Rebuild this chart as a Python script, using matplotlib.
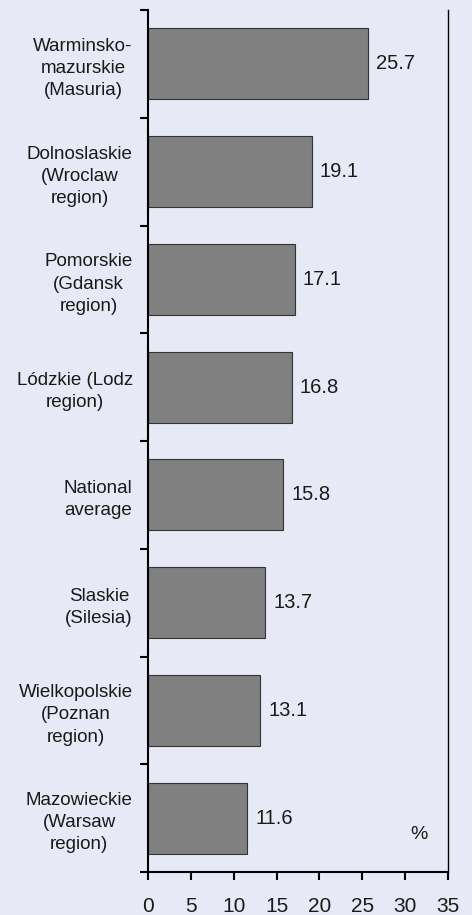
import numpy as np
import matplotlib
matplotlib.use('Agg')
from matplotlib import pyplot as plt

plt.rcParams['font.family'] = ['Liberation Sans', 'DejaVu Sans']

# categories top to bottom
regions = ['Warminsko-\nmazurskie\n(Masuria)',
           'Dolnoslaskie\n(Wroclaw\nregion)',
           'Pomorskie\n(Gdansk\nregion)',
           'Lódzkie (Lodz\nregion)',
           'National\naverage',
           'Slaskie\n(Silesia)',
           'Wielkopolskie\n(Poznan\nregion)',
           'Mazowieckie\n(Warsaw\nregion)']
values = [25.7, 19.1, 17.1, 16.8, 15.8, 13.7, 13.1, 11.6]
xticks = [0, 5, 10, 15, 20, 25, 30, 35]

bg = '#e8e9f6'
fig = plt.figure(figsize=(4.72, 9.15), dpi=100, facecolor=bg)
ax = fig.add_axes([0.3136, 0.047, 0.6356, 0.942], facecolor=bg)

n = len(values)
ypos = np.arange(n)[::-1]
ax.barh(ypos, values, height=0.66, color='#808080', edgecolor='#333333', linewidth=0.8)

for y, v in zip(ypos, values):
    ax.text(v + 0.9, y, '%.1f' % v, va='center', ha='left', fontsize=14.5, color='#1a1a1a')

ax.text(31.6, -0.15, '%', fontsize=14, color='#1a1a1a', ha='center', va='center')

ax.set_xlim(0, 35)
ax.set_ylim(-0.5, n - 0.5)
ax.set_xticks(xticks)
ax.set_xticklabels([str(t) for t in xticks], fontsize=15, color='#1a1a1a')

# boundaries as major ticks, labels on minor ticks at the centres
ax.set_yticks(np.arange(n + 1) - 0.5)
ax.set_yticklabels([])
ax.set_yticks(ypos, minor=True)
ax.set_yticklabels(regions, minor=True, fontsize=13.5, multialignment='center',
                   linespacing=1.4, color='#1a1a1a')
ax.tick_params(axis='y', which='minor', length=0, pad=11)
ax.tick_params(axis='y', which='major', length=6, width=1.5, direction='out')
ax.tick_params(axis='x', length=6, width=1.5, direction='out', pad=12)

ax.spines['top'].set_visible(False)
for s in ['left', 'bottom']:
    ax.spines[s].set_linewidth(1.5)
ax.spines['right'].set_linewidth(1.0)

plt.savefig('out.png', dpi=100, facecolor=bg)
